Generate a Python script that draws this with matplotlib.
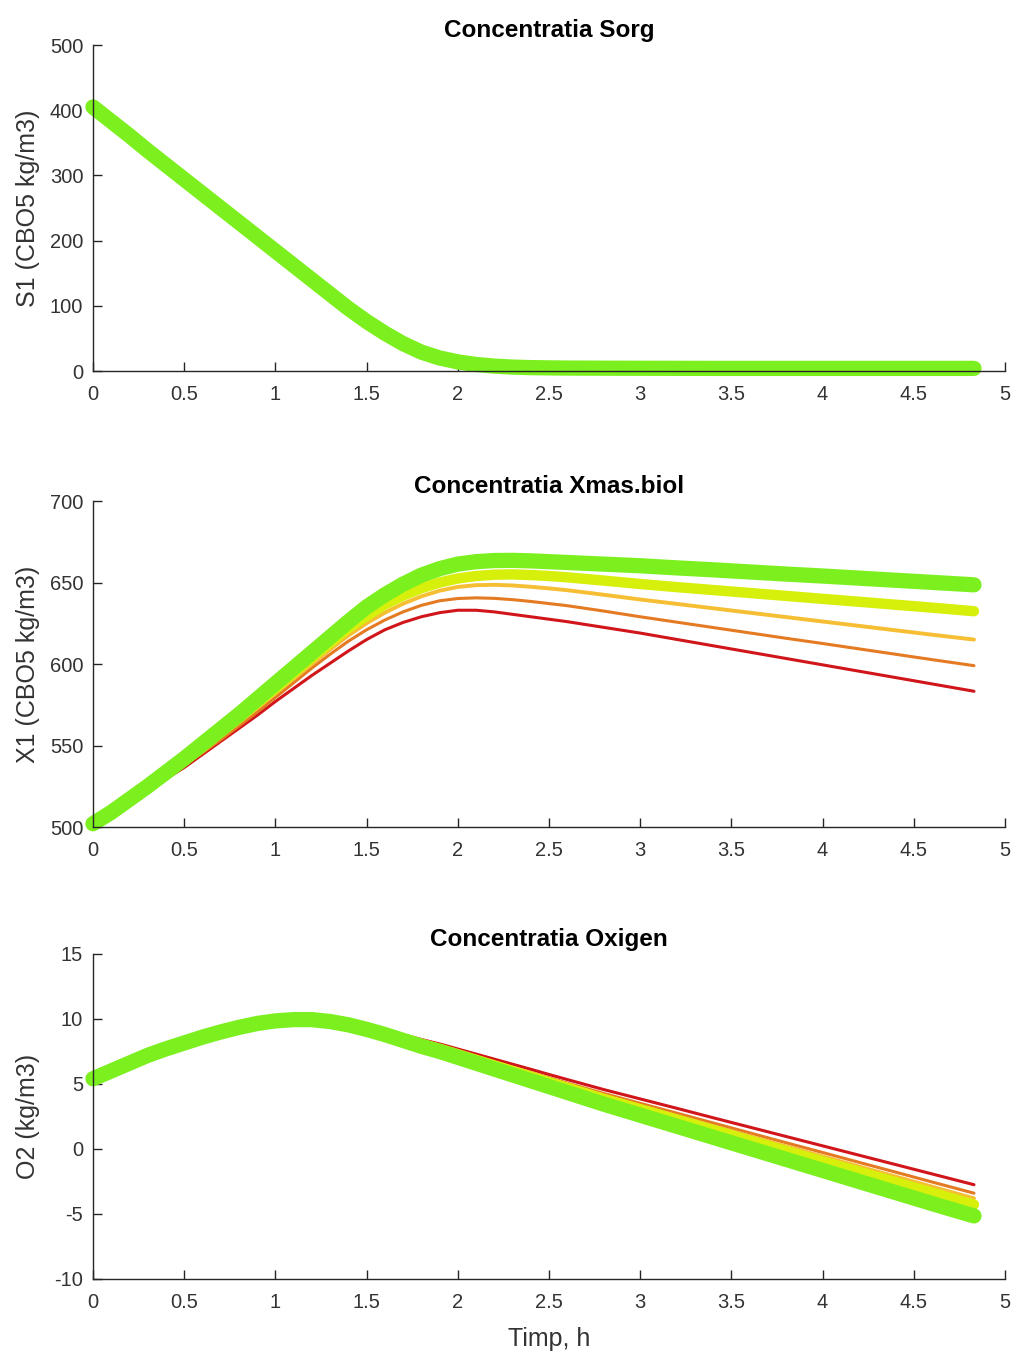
import matplotlib
matplotlib.use("Agg")
import matplotlib.pyplot as plt

plt.rcParams['font.family'] = ['Liberation Sans', 'DejaVu Sans']

# time grid (h)
t = [0.0, 0.1, 0.2, 0.3, 0.4, 0.5, 0.6, 0.7, 0.8, 0.9,
     1.0, 1.1, 1.2, 1.3, 1.4, 1.5, 1.6, 1.7, 1.8, 1.9,
     2.0, 2.1, 2.2, 2.3, 2.4, 2.5, 2.6, 2.8, 3.0, 3.2,
     3.4, 3.6, 3.8, 4.0, 4.2, 4.4, 4.6, 4.83]

# S1 (all five runs coincide)
s1 = [405, 383, 361, 338, 316, 294, 272, 250, 228, 206,
      184, 162, 140, 118, 96, 76, 58, 42, 29, 20,
      14, 10, 7.5, 6, 5.2, 4.8, 4.5, 4.3, 4.2, 4.1,
      4.0, 4.0, 4.0, 4.0, 4.0, 4.0, 4.0, 4.0]

# X1 per run
x1_red = [502, 508.5, 515.5, 522.5, 529.5, 536.5, 544.5, 552.5, 560.5, 568.5,
          577, 585, 593, 600.5, 608, 615, 621, 625.5, 629, 631.5,
          633, 633, 632, 630.5, 629, 627.5, 626, 622.5, 619, 615.1,
          611.2, 607.3, 603.4, 599.5, 595.6, 591.7, 587.8, 583.3]
x1_orange = [502, 508.7, 515.8, 523, 530.3, 537.8, 545.5, 553.5, 562, 570.5,
             579.5, 588.5, 597.5, 606, 614, 621, 627, 632, 636, 638.8,
             640.2, 640.6, 640.3, 639.5, 638.4, 637.1, 635.8, 632.5, 629, 625.7,
             622.4, 619.1, 615.8, 612.6, 609.3, 606, 602.7, 599]
x1_yellow = [502, 508.8, 516, 523.4, 531, 539, 547, 555.5, 564, 573,
             582, 591, 600, 609, 617.5, 625, 631.5, 637, 641.5, 645,
             647.3, 648.4, 648.6, 648.2, 647.4, 646.4, 645.3, 642.5, 639.6, 636.9,
             634.2, 631.5, 628.8, 626.1, 623.4, 620.7, 618, 615]
x1_ygreen = [502, 508.9, 516.3, 524, 532, 540.5, 549, 558, 567, 576,
             585, 594.5, 604, 613, 622, 629.5, 636.5, 642, 646.5, 650,
             652.5, 654, 654.8, 655, 654.6, 654, 653.2, 651.2, 649.1, 647.2,
             645.4, 643.6, 641.8, 640, 638.2, 636.4, 634.6, 632.4]
x1_green = [502, 509, 517, 525, 533.5, 542, 551, 560, 569, 578.5,
            588, 597.5, 607, 616.5, 626, 635, 642.5, 649, 654.5, 658.5,
            661.3, 662.8, 663.5, 663.6, 663.3, 662.8, 662.3, 661.3, 660.3, 659,
            657.8, 656.5, 655.2, 654, 652.7, 651.4, 650.1, 648.6]

# O2 per run
o2_green = [5.4, 6.0, 6.6, 7.2, 7.7, 8.15, 8.6, 9.0, 9.35, 9.65,
            9.85, 9.95, 9.95, 9.8, 9.55, 9.2, 8.8, 8.35, 7.9, 7.5,
            7.05, 6.6, 6.15, 5.7, 5.25, 4.8, 4.35, 3.45, 2.6, 1.75,
            0.9, 0.05, -0.8, -1.65, -2.5, -3.35, -4.2, -5.15]
o2_ygreen = [5.4, 6.0, 6.6, 7.2, 7.7, 8.15, 8.6, 9.0, 9.35, 9.65,
             9.85, 9.95, 9.95, 9.82, 9.59, 9.28, 8.92, 8.51, 8.09, 7.71,
             7.29, 6.86, 6.43, 6.0, 5.58, 5.14, 4.72, 3.86, 3.06, 2.26,
             1.46, 0.65, -0.15, -0.95, -1.75, -2.55, -3.36, -4.28]
o2_yellow = [5.4, 6.0, 6.6, 7.2, 7.7, 8.15, 8.6, 9.0, 9.35, 9.65,
             9.85, 9.95, 9.95, 9.83, 9.62, 9.33, 8.99, 8.6, 8.2, 7.83,
             7.41, 7.0, 6.58, 6.17, 5.75, 5.33, 4.91, 4.09, 3.31, 2.54,
             1.76, 0.98, 0.2, -0.57, -1.35, -2.12, -2.9, -3.8]
o2_orange = [5.4, 6.0, 6.6, 7.2, 7.7, 8.15, 8.6, 9.0, 9.35, 9.65,
             9.85, 9.95, 9.95, 9.84, 9.64, 9.36, 9.04, 8.67, 8.28, 7.92,
             7.52, 7.11, 6.7, 6.3, 5.89, 5.48, 5.07, 4.27, 3.51, 2.76,
             2.0, 1.24, 0.48, -0.27, -1.03, -1.78, -2.54, -3.4]
o2_red = [5.4, 6.0, 6.6, 7.2, 7.7, 8.15, 8.6, 9.0, 9.35, 9.65,
          9.85, 9.95, 9.95, 9.85, 9.67, 9.42, 9.13, 8.79, 8.42, 8.08,
          7.69, 7.3, 6.91, 6.52, 6.13, 5.73, 5.34, 4.57, 3.85, 3.13,
          2.4, 1.68, 0.96, 0.24, -0.48, -1.2, -1.92, -2.75]

run_colors = ['#D0161A', '#E47A22', '#F6BE32', '#D6F00C', '#7CF01E']
run_widths = [2.2, 2.2, 2.8, 7.5, 11.0]   # points

xticks = [0, 0.5, 1, 1.5, 2, 2.5, 3, 3.5, 4, 4.5, 5]
xtick_labels = ['0', '0.5', '1', '1.5', '2', '2.5', '3', '3.5', '4', '4.5', '5']

panels = [
    dict(title='Concentratia Sorg', ylabel='S1 (CBO5 kg/m3)',
         series=[s1, s1, s1, s1, s1], ylim=(0, 500),
         yticks=[0, 100, 200, 300, 400, 500],
         yticklabels=['0', '100', '200', '300', '400', '500'],
         rect=[0.0914, 0.7264, 0.8968, 0.2404]),
    dict(title='Concentratia Xmas.biol', ylabel='X1 (CBO5 kg/m3)',
         series=[x1_red, x1_orange, x1_yellow, x1_ygreen, x1_green], ylim=(500, 700),
         yticks=[500, 550, 600, 650, 700],
         yticklabels=['500', '550', '600', '650', '700'],
         rect=[0.0914, 0.3901, 0.8968, 0.2404]),
    dict(title='Concentratia Oxigen', ylabel='O2 (kg/m3)',
         series=[o2_red, o2_orange, o2_yellow, o2_ygreen, o2_green], ylim=(-10, 15),
         yticks=[-10, -5, 0, 5, 10, 15],
         yticklabels=['-10', '-5', '0', '5', '10', '15'],
         rect=[0.0914, 0.0568, 0.8968, 0.2397]),
]

fig = plt.figure(figsize=(10.17, 13.56), dpi=100)
txt = '#333333'
for i, p in enumerate(panels):
    ax = fig.add_axes(p['rect'])
    for ys, c, w in zip(p['series'], run_colors, run_widths):
        ax.plot(t, ys, color=c, lw=w, solid_capstyle='round',
                solid_joinstyle='round', clip_on=False)
    ax.set_xlim(0, 5)
    ax.set_ylim(*p['ylim'])
    ax.set_xticks(xticks)
    ax.set_xticklabels(xtick_labels)
    ax.set_yticks(p['yticks'])
    ax.set_yticklabels(p['yticklabels'])
    for s in ['top', 'right']:
        ax.spines[s].set_visible(False)
    for s in ['left', 'bottom']:
        ax.spines[s].set_color('#262626')
        ax.spines[s].set_linewidth(1.0)
    ax.tick_params(direction='in', length=6.5, width=1.0, colors='#262626',
                   labelcolor=txt, labelsize=14.5)
    ax.tick_params(axis='x', pad=10)
    ax.tick_params(axis='y', pad=7)
    ax.set_title(p['title'], fontsize=17.5, fontweight='bold', color='black', pad=6)
    ax.set_ylabel(p['ylabel'], fontsize=18, color=txt)
    ax.yaxis.set_label_coords(-0.058, 0.5)
    if i == 2:
        ax.set_xlabel('Timp, h', fontsize=18, color=txt, labelpad=11)

fig.savefig('out.png', dpi=100, facecolor='white')
